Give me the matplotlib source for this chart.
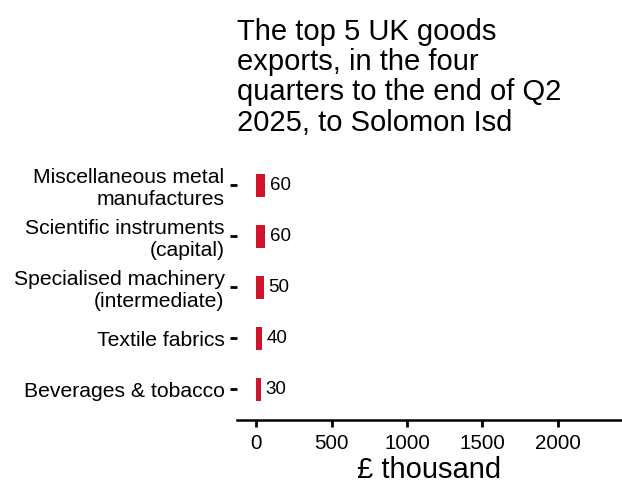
import matplotlib.pyplot as plt

plt.rcParams['font.family'] = ['Liberation Sans', 'DejaVu Sans']

categories = ['Beverages & tobacco', 'Textile fabrics',
              'Specialised machinery\n(intermediate)',
              'Scientific instruments\n(capital)',
              'Miscellaneous metal\nmanufactures']
values = [30, 40, 50, 60, 60]
xticks = [0, 500, 1000, 1500, 2000]

fig = plt.figure(figsize=(6.22, 4.83), dpi=100)
ax = fig.add_axes([237 / 622, 1 - 420 / 483, 385 / 622, (420 - 160) / 483])

ypos = list(range(len(categories)))
ax.barh(ypos, values, height=0.46, color='#cf142b')
for y, v in zip(ypos, values):
    ax.text(v + 30, y, str(v), va='center', ha='left', fontsize=13.5)

ax.set_xlim(-126, 2424)
ax.set_ylim(-0.6, 4.5)
ax.set_xticks(xticks)
ax.set_xticklabels([str(t) for t in xticks], fontsize=14.8)
ax.set_yticks(ypos)
ax.set_yticklabels(categories, fontsize=15.2, linespacing=1.15)
ax.tick_params(axis='y', length=5, width=2, pad=4)
ax.tick_params(axis='x', length=5, width=2, pad=5)
for s in ['top', 'right', 'left']:
    ax.spines[s].set_visible(False)
ax.spines['bottom'].set_linewidth(1.8)
ax.set_xlabel('£ thousand', fontsize=21, labelpad=2.5)

fig.text(237 / 622, 1 - 18 / 483,
         'The top 5 UK goods\nexports, in the four\nquarters to the end of Q2\n2025, to Solomon Isd',
         ha='left', va='top', fontsize=21, linespacing=1.1)

fig.savefig('out.png', dpi=100)
